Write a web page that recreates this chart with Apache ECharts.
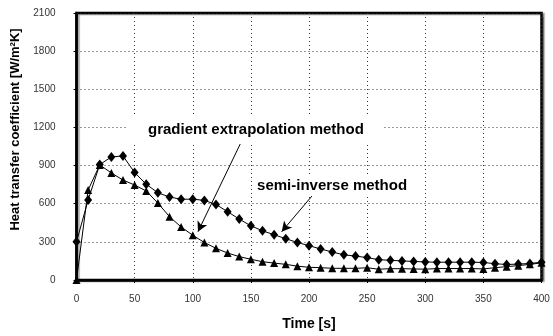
<!DOCTYPE html>
<html>
<head>
<meta charset="utf-8">
<script src="https://cdn.jsdelivr.net/npm/echarts@6/dist/echarts.min.js"></script>
<style>
html,body{margin:0;padding:0;background:#fff;}
#chart{width:553px;height:336px;}
</style>
</head>
<body>
<div id="chart"></div>
<script>
var times = [0,10,20,30,40,50,60,70,80,90,100,110,120,130,140,150,160,170,180,190,200,210,220,230,240,250,260,270,280,290,300,310,320,330,340,350,360,370,380,390,400];
var semiInverse = [300,630,908,968,976,845,753,686,653,635,636,626,594,537,479,426,387,356,325,295,270,244,220,198,188,176,160,155,150,146,142,140,140,140,140,138,128,122,125,130,140];
var gradientExtrap = [0,708,905,842,786,747,700,605,498,417,352,295,249,212,184,163,144,133,123,109,100,97,92,92,92,96,85,89,89,87,85,90,90,90,90,87,97,105,113,123,135];
var xTicks = {min:0, max:400, interval:50};
var yTicks = {min:0, max:2100, interval:300};
var seriesNames = ['semi-inverse method','gradient extrapolation method'];
var yTitle = 'Heat transfer coefficient [W/m\u00B2K]';
var xTitle = 'Time [s]';

function pairs(xs, ys){ return xs.map(function(x,i){ return [x, ys[i]]; }); }

var chart = echarts.init(document.getElementById('chart'), null, {renderer:'canvas'});
var FONT = '"Liberation Sans", Arial, sans-serif';
var option = {
  animation:false,
  backgroundColor:'#fff',
  grid:{left:76.5, right:11.5, top:13, bottom:56, show:true, borderColor:'#000', borderWidth:2.5, backgroundColor:'#fff',
        shadowColor:'rgba(0,0,0,0.35)', shadowOffsetX:2, shadowOffsetY:1, shadowBlur:1},
  xAxis:{type:'value', min:xTicks.min, max:xTicks.max, interval:xTicks.interval,
    name:xTitle, nameLocation:'middle', nameGap:37,
    nameTextStyle:{fontFamily:FONT, fontWeight:'bold', fontSize:14, color:'#000'},
    axisLine:{show:true, onZero:false, lineStyle:{color:'#000', width:2.5}},
    axisTick:{show:true, length:3, lineStyle:{color:'#000'}},
    axisLabel:{fontFamily:FONT, fontSize:10, color:'#333', margin:14, formatter:function(v){return String(v);}},
    splitLine:{show:true, lineStyle:{color:'#333', width:1, type:[1,3]}}
  },
  yAxis:{type:'value', min:yTicks.min, max:yTicks.max, interval:yTicks.interval,
    name:yTitle, nameLocation:'middle', nameGap:52,
    nameTextStyle:{fontFamily:FONT, fontWeight:'bold', fontSize:13, color:'#000', padding:[0,0,0,34]},
    axisLine:{show:true, lineStyle:{color:'#000', width:2.5}},
    axisTick:{show:true, length:3, lineStyle:{color:'#000'}},
    axisLabel:{fontFamily:FONT, fontSize:10, color:'#333', margin:21, formatter:function(v){return String(v);}},
    splitLine:{show:true, lineStyle:{color:'#333', width:1, type:[1,3]}}
  },
  series:[
    {name:seriesNames[0], type:'line', data:pairs(times, semiInverse),
     symbol:'diamond', symbolSize:[8,10], showAllSymbol:true,
     lineStyle:{color:'#000', width:1}, itemStyle:{color:'#000'}, z:3,
     markLine:{silent:true, symbol:['none','arrow'], symbolSize:[8,10],
       lineStyle:{color:'#000', width:1, type:'solid'}, label:{show:false},
       data:[[{coord:[202.5,660]},{coord:[176.5,380]}]]}
    },
    {name:seriesNames[1], type:'line', data:pairs(times, gradientExtrap),
     symbol:'triangle', symbolSize:[8,8], showAllSymbol:true,
     lineStyle:{color:'#000', width:1}, itemStyle:{color:'#000'}, z:3,
     markLine:{silent:true, symbol:['none','arrow'], symbolSize:[8,10],
       lineStyle:{color:'#000', width:1, type:'solid'}, label:{show:false},
       data:[[{coord:[143.5,1120]},{coord:[104.5,380]}]]}
    }
  ]
};
chart.setOption(option);

// annotation labels placed at data positions (left edge, vertical centre)
var p1 = chart.convertToPixel({gridIndex:0}, [61.5, 1180]);
var p2 = chart.convertToPixel({gridIndex:0}, [155.3, 740]);
chart.setOption({graphic:[
  {type:'text', left:p1[0]-20, top:p1[1]-15, z:10,
   style:{text:seriesNames[1], font:'bold 15px '+FONT, fill:'#000', backgroundColor:'#fff', padding:[7,20,7,20]}},
  {type:'text', left:p2[0]-3, top:p2[1]-11, z:10,
   style:{text:seriesNames[0], font:'bold 15px '+FONT, fill:'#000', backgroundColor:'#fff', padding:[3,3,3,3]}}
]});
</script>
</body>
</html>
